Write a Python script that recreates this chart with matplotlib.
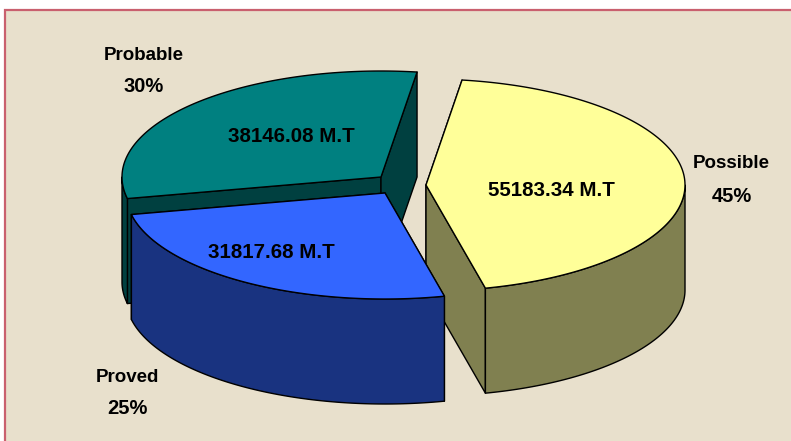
import numpy as np
import matplotlib
matplotlib.use("Agg")
import matplotlib.pyplot as plt
from matplotlib.patches import Polygon, Rectangle

plt.rcParams['font.family'] = ['Liberation Sans', 'DejaVu Sans']

# Data, in clockwise drawing order starting from the top
categories = ["Possible", "Proved", "Probable"]
tonnes = [55183.34, 31817.68, 38146.08]
percent_labels = ["45%", "25%", "30%"]
value_labels = ["55183.34 M.T", "31817.68 M.T", "38146.08 M.T"]

# Styling and layout, in pixels
W, H = 791, 441
BG = "#E8E0CC"
BORDER = "#C9606E"
TOP = {"Possible": "#FFFF99", "Proved": "#3366FF", "Probable": "#008080"}
SIDE = {"Possible": "#808050", "Proved": "#193380", "Probable": "#004040"}
APEX = {"Possible": (426, 185), "Proved": (385, 193), "Probable": (381, 177)}
NAME_POS = {"Possible": (731, 164), "Proved": (127, 377), "Probable": (144, 55)}
PCT_POS = {"Possible": (732, 196), "Proved": (127, 409), "Probable": (144, 87)}
VALUE_POS = {"Possible": (551, 191), "Proved": (271, 253), "Probable": (291, 136)}
RX, RY, DEPTH = 259, 106, 105
START = 8.0

fig = plt.figure(figsize=(W / 100, H / 100), dpi=100, facecolor="white")
ax = fig.add_axes([0, 0, 1, 1])
ax.set_xlim(0, W)
ax.set_ylim(H, 0)
ax.axis("off")

ax.add_patch(Rectangle((4.5, 9.5), W + 20, H + 20, facecolor=BG, edgecolor=BORDER, lw=1.6, zorder=0))


def rim(apex, t_deg):
    t = np.radians(t_deg)
    return np.column_stack([apex[0] + RX * np.sin(t), apex[1] - RY * np.cos(t)])


shares = np.array(tonnes) / np.sum(tonnes) * 360
starts = START + np.concatenate([[0], np.cumsum(shares)[:-1]])
spans = {c: (s, s + w) for c, s, w in zip(categories, starts, shares)}


def draw_slice(name, z):
    a0, a1 = spans[name]
    apex = np.array(APEX[name], float)
    down = np.array([0, DEPTH])
    style = dict(edgecolor="black", lw=1.0, joinstyle="round", zorder=z)
    # flat cut faces
    for ang in (a0, a1):
        p = rim(apex, ang)[0]
        ax.add_patch(Polygon([apex, p, p + down, apex + down], facecolor=SIDE[name], **style))
    # outer wall: only the front half of the rim can be seen
    lo, hi = max(a0, 90), min(a1, 270)
    if hi > lo:
        arc = rim(apex, np.linspace(lo, hi, 120))
        ax.add_patch(Polygon(np.vstack([arc, (arc + down)[::-1]]), facecolor=SIDE[name], **style))
    # top surface
    arc = rim(apex, np.linspace(a0, a1, 200))
    ax.add_patch(Polygon(np.vstack([apex, arc]), facecolor=TOP[name], **style))


draw_slice("Probable", 1)
draw_slice("Possible", 2)
draw_slice("Proved", 3)

for c, pct, val in zip(categories, percent_labels, value_labels):
    ax.text(*NAME_POS[c], c, ha="center", va="center", fontsize=13.5, fontweight="bold", color="black", zorder=5)
    ax.text(*PCT_POS[c], pct, ha="center", va="center", fontsize=14.5, fontweight="bold", color="black", zorder=5)
    ax.text(*VALUE_POS[c], val, ha="center", va="center", fontsize=14.8, fontweight="bold", color="black", zorder=5)

fig.savefig("out.png", dpi=100, facecolor="white")
